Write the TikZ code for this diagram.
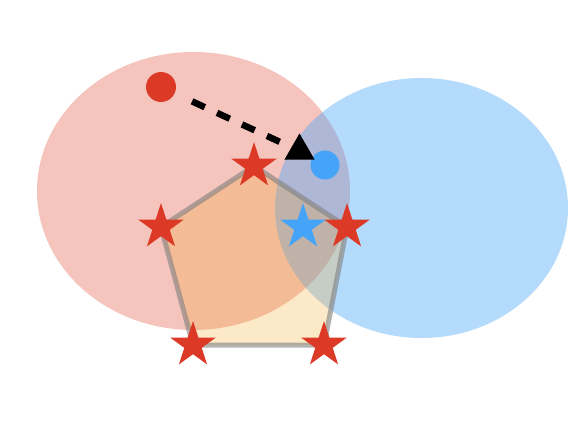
\documentclass[tikz,border=0pt]{standalone}
\usetikzlibrary{shapes.geometric}
\definecolor{mred}{HTML}{DC3A26}
\definecolor{mblue}{HTML}{46A4F8}
\definecolor{morange}{HTML}{F5A623}
\tikzset{
  starmark/.style={star, star points=5, star point ratio=2.618, minimum size=48pt, inner sep=0pt, fill=#1, draw=none},
  dotmark/.style={circle, minimum size=30pt, inner sep=0pt, fill=#1, draw=none},
  trimark/.style={regular polygon, regular polygon sides=3, minimum size=35pt, inner sep=0pt, fill=black, draw=none},
  dashline/.style={line width=6.5pt, dash pattern=on 14pt off 13.5pt},
}
\begin{document}
\begin{tikzpicture}[x=1pt,y=-1pt]
\useasboundingbox (0,0) rectangle (588,422);
% ellipses
\fill[mred, opacity=0.3] (193.5,191) ellipse [x radius=156.5, y radius=139];
\fill[mblue, opacity=0.4] (421.5,208) ellipse [x radius=146.5, y radius=130];
% pentagon
\coordinate (p1) at (254,166);
\coordinate (p2) at (347,227);
\coordinate (p3) at (324,345);
\coordinate (p4) at (193,345);
\coordinate (p5) at (161,227);
\fill[morange, fill opacity=0.25] (p1) -- (p2) -- (p3) -- (p4) -- (p5) -- cycle;
\draw[gray, draw opacity=0.6, line width=5pt, line join=round] (p1) -- (p2) -- (p3) -- (p4) -- (p5) -- cycle;
% dots and arrow
\node[dotmark=mred] (reddot) at (161,87) {};
\node[dotmark=mblue, minimum size=29pt] (bluedot) at (325,165) {};
\node[trimark] (tri) at (299.5,151) {};
\draw[dashline] (reddot) -- (tri) [shorten <=19pt];
% stars
\node[starmark=mred] (s1) at (p1) {};
\node[starmark=mred] (s2) at (p2) {};
\node[starmark=mred] (s3) at (p3) {};
\node[starmark=mred] (s4) at (p4) {};
\node[starmark=mred] (s5) at (p5) {};
\node[starmark=mblue] (sb) at (303,227) {};
\end{tikzpicture}
\end{document}
